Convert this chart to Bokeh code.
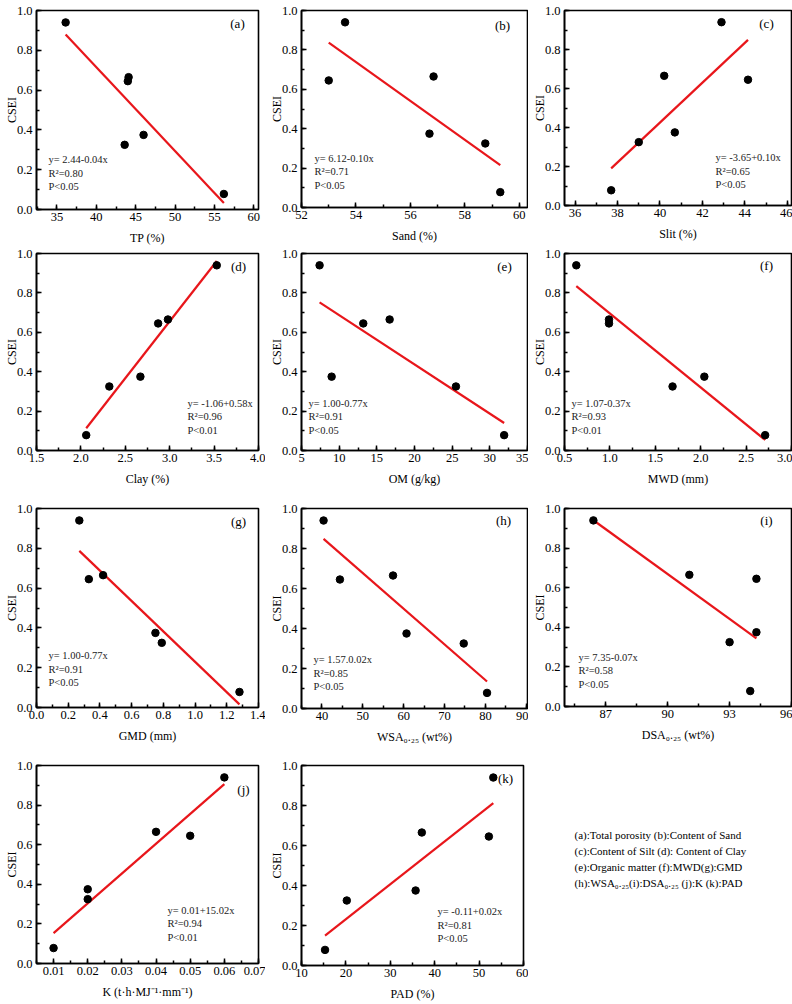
import numpy as np
from bokeh.plotting import figure
from bokeh.layouts import row, column
from bokeh.models import FixedTicker, PrintfTickFormatter, Label
from bokeh.embed import file_html
from bokeh.resources import INLINE

# ---------------- data ----------------
CSEI = [0.94, 0.665, 0.645, 0.375, 0.325, 0.078]
TP   = [36.1, 44.1, 44.0, 46.0, 43.6, 56.2]
SAND = [53.6, 56.85, 53.0, 56.7, 58.75, 59.3]
SILT = [42.9, 40.2, 44.15, 40.7, 39.0, 37.7]
CLAY = [3.53, 2.98, 2.87, 2.67, 2.32, 2.06]
OM   = [7.4, 16.7, 13.2, 9.0, 25.5, 31.9]
MWD  = [0.63, 0.99, 0.99, 2.04, 1.69, 2.71]
GMD  = [0.27, 0.42, 0.33, 0.75, 0.79, 1.28]
WSA  = [40.4, 57.4, 44.4, 60.7, 74.7, 80.4]
DSA  = [86.4, 91.05, 94.3, 94.3, 93.0, 94.0]
KF   = [0.06, 0.04, 0.05, 0.02, 0.02, 0.01]
PAD  = [53.2, 37.1, 52.2, 35.7, 20.2, 15.3]

Y_TICKS = [0.0, 0.2, 0.4, 0.6, 0.8, 1.0]

EQS = ["y= 2.44-0.04x", "y= 6.12-0.10x", "y= -3.65+0.10x", "y= -1.06+0.58x",
       "y= 1.00-0.77x", "y= 1.07-0.37x", "y= 1.00-0.77x", "y= 1.57.0.02x",
       "y= 7.35-0.07x", "y= 0.01+15.02x", "y= -0.11+0.02x"]
R2S = ["0.80", "0.71", "0.65", "0.96", "0.91", "0.93", "0.91", "0.85", "0.58", "0.94", "0.81"]
PS = ["P<0.05", "P<0.05", "P<0.05", "P<0.01", "P<0.05", "P<0.01", "P<0.05", "P<0.05",
      "P<0.05", "P<0.01", "P<0.05"]
TAGS = ["(a)", "(b)", "(c)", "(d)", "(e)", "(f)", "(g)", "(h)", "(i)", "(j)", "(k)"]
XLABELS = ["TP (%)", "Sand (%)", "Slit (%)", "Clay (%)", "OM (g/kg)", "MWD (mm)",
           "GMD (mm)", "WSA\u2080.\u2082\u2085 (wt%)", "DSA\u2080.\u2082\u2085 (wt%)",
           "K (t\u00b7h\u00b7MJ\u207b\u00b9\u00b7mm\u207b\u00b9)", "PAD (%)"]
YLABEL = "CSEI"
XDATA = [TP, SAND, SILT, CLAY, OM, MWD, GMD, WSA, DSA, KF, PAD]
X_TICKS = [
    [35, 40, 45, 50, 55, 60],
    [52, 54, 56, 58, 60],
    [36, 38, 40, 42, 44, 46],
    [1.5, 2.0, 2.5, 3.0, 3.5, 4.0],
    [5, 10, 15, 20, 25, 30, 35],
    [0.5, 1.0, 1.5, 2.0, 2.5, 3.0],
    [0.0, 0.2, 0.4, 0.6, 0.8, 1.0, 1.2, 1.4],
    [40, 50, 60, 70, 80, 90],
    [87, 90, 93, 96],
    [0.01, 0.02, 0.03, 0.04, 0.05, 0.06, 0.07],
    [10, 20, 30, 40, 50, 60],
]
X_FMT = ["%d", "%d", "%d", "%.1f", "%d", "%.1f", "%.1f", "%d", "%d", "%.2f", "%d"]
X_RANGES = [(32.4, 60.6), (52, 60.3), (35.5, 46.2), (1.5, 4.0), (5, 35), (0.5, 3.0),
            (0.0, 1.4), (35, 90.3), (85, 96), (0.005, 0.07), (10, 60)]

LEGEND_LINES = [
    "(a):Total porosity (b):Content of Sand",
    "(c):Content of Silt (d): Content of Clay",
    "(e):Organic matter (f):MWD(g):GMD",
    "(h):WSA\u2080.\u2082\u2085(i):DSA\u2080.\u2082\u2085 (j):K (k):PAD",
]

# ---------------- layout / style ----------------
FONT = "Liberation Serif"
RED = "#e8161b"
# per panel: frame (left border, width, right border, top border, height, bottom border)
FRAMES = [
    (36, 222, 7, 4, 199, 43), (36, 226, 1, 6, 197, 43), (36, 227, 1, 10, 195, 41),
    (36, 222, 7, 6, 197, 51), (36, 226, 1, 7, 197, 50), (36, 227, 1, 7, 197, 50),
    (36, 222, 7, 8, 199, 51), (36, 226, 1, 5, 200, 53), (36, 227, 1, 3, 198, 57),
    (36, 222, 7, 7, 198, 41), (36, 222, 5, 6, 200, 40),
]
# stats block: pixel offset from frame left, y value of first line
STAT_POS = [(12, 0.25), (13, 0.25), (151, 0.246), (151, 0.24), (7, 0.24), (7, 0.24),
            (12, 0.26), (12, 0.245), (14, 0.25), (131, 0.27), (136, 0.27)]
# panel tag: pixel offset from right edge (center), from top
TAG_POS = [(21, 13), (25, 15), (25, 13), (20, 13), (23, 13), (25, 12),
           (20, 13), (24, 12), (25, 12), (15, 24), (18, 13)]


def make_panel(i):
    lb, fw, rb, tb, fh, bb = FRAMES[i]
    x0, x1 = X_RANGES[i]
    p = figure(frame_width=fw, frame_height=fh, min_border_left=lb, min_border_right=rb,
               min_border_top=tb, min_border_bottom=bb, x_range=(x0, x1), y_range=(0, 1),
               output_backend="svg", toolbar_location=None, tools="")
    p.grid.visible = False
    p.background_fill_color = "white"
    p.border_fill_color = "white"
    p.outline_line_color = "black"
    p.outline_line_width = 1.6
    p.outline_line_alpha = 1.0

    xt = X_TICKS[i]
    step = xt[1] - xt[0]
    xminor = list(np.arange(xt[0] - step, xt[-1] + step, step / 2.0))
    p.xaxis.ticker = FixedTicker(ticks=xt, minor_ticks=xminor)
    p.xaxis.formatter = PrintfTickFormatter(format=X_FMT[i])
    p.yaxis.ticker = FixedTicker(ticks=Y_TICKS, minor_ticks=list(np.arange(-0.1, 1.1, 0.1)))
    p.yaxis.formatter = PrintfTickFormatter(format="%.1f")
    p.xaxis.axis_label = XLABELS[i]
    p.yaxis.axis_label = YLABEL
    for ax in (p.xaxis, p.yaxis):
        ax.axis_line_width = 1.6
        ax.axis_line_color = "black"
        ax.major_tick_in = 5
        ax.major_tick_out = 0
        ax.minor_tick_in = 3
        ax.minor_tick_out = 0
        ax.major_tick_line_width = 1.5
        ax.minor_tick_line_width = 1.5
        ax.major_label_text_font = FONT
        ax.major_label_text_font_size = "12.5px"
        ax.major_label_text_color = "black"
        ax.axis_label_text_font = FONT
        ax.axis_label_text_font_size = "12px"
        ax.axis_label_text_font_style = "normal"
        ax.axis_label_text_color = "black"
    p.xaxis.major_label_standoff = 3
    p.xaxis.axis_label_standoff = 7
    p.yaxis.major_label_standoff = 4
    p.yaxis.axis_label_standoff = -5

    xs = np.array(XDATA[i], dtype=float)
    ys = np.array(CSEI, dtype=float)
    slope, icpt = np.polyfit(xs, ys, 1)
    lx = np.array([xs.min(), xs.max()])
    p.line(lx, icpt + slope * lx, line_color=RED, line_width=2.2)
    p.scatter(xs, ys, size=7.5, fill_color="black", line_color="black", marker="circle")

    dx, yv = STAT_POS[i]
    for k, t in enumerate([EQS[i], "R\u00b2=" + R2S[i], PS[i]]):
        p.add_layout(Label(x=x0, y=yv, x_offset=dx, y_offset=-13.5 * k, text=t,
                           text_font=FONT, text_font_size="10.5px", text_color="#222222",
                           text_baseline="middle", text_align="left"))
    ro, to = TAG_POS[i]
    p.add_layout(Label(x=x1, y=1.0, x_offset=-ro, y_offset=-to, text=TAGS[i],
                       text_font=FONT, text_font_size="13px", text_color="black",
                       text_baseline="middle", text_align="center"))
    return p


panels = [make_panel(i) for i in range(11)]

# legend text panel
leg = figure(frame_width=264, frame_height=246, min_border=0, x_range=(0, 264), y_range=(0, 246),
             output_backend="svg", toolbar_location=None, tools="")
leg.axis.visible = False
leg.grid.visible = False
leg.outline_line_color = None
for k, t in enumerate(LEGEND_LINES):
    leg.add_layout(Label(x=46, y=177 - 16 * k, text=t, text_font=FONT, text_font_size="11px",
                         text_color="black", text_baseline="middle", text_align="left"))

layout = column(
    row(panels[0], panels[1], panels[2]),
    row(panels[3], panels[4], panels[5]),
    row(panels[6], panels[7], panels[8]),
    row(panels[9], panels[10], leg),
)

open("out.html", "w").write(file_html(layout, INLINE))
